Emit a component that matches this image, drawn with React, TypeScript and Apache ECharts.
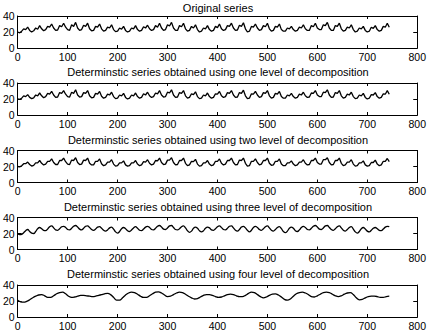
import React, { useEffect, useRef } from "react";
import * as echarts from "echarts";

// hourly samples every 4 hours (original, level 1, level 2, level 3), every 6 hours (level 4)
const step4 = 4;
const step6 = 6;

const titles = [
  "Original series",
  "Determinstic series obtained using one level of decomposition",
  "Determinstic series obtained using two level of decomposition",
  "Determinstic series obtained using three level of decomposition",
  "Determinstic series obtained using four level of decomposition",
];

const xTicks = [0, 100, 200, 300, 400, 500, 600, 700, 800];
const yTicks = [0, 20, 40];

const original = [
  20, 19, 21, 24, 23, 26,
  22, 20, 21.5, 25, 23.5, 28,
  24, 21.5, 23, 27, 26, 30,
  25, 22, 22.5, 28, 26.5, 31,
  26, 23, 22, 29, 27, 32,
  25, 22, 23, 28.5, 27, 31,
  24, 21.5, 22, 27, 26, 30,
  24, 21, 22, 26, 25, 29,
  23, 20.5, 21, 25, 23.5, 27,
  22, 20, 21, 25, 24, 28,
  23, 21, 22, 26.5, 25, 28.5,
  24, 22, 23, 28, 26, 31,
  25, 22, 23, 29, 27.5, 32,
  25, 22, 22, 28, 26.5, 31,
  24, 21, 22, 27, 25, 29,
  23, 20, 21, 25, 24, 28,
  23, 21, 22, 27, 25.5, 30,
  24, 22, 23, 28, 27, 31,
  25, 22, 22.5, 28.5, 27, 31.5,
  24, 20, 21, 27, 26, 30,
  25, 22, 23, 28, 26.5, 31,
  24, 21, 22, 27, 26, 30,
  23, 21, 21, 25, 24, 27,
  23, 21, 22, 26, 25, 29,
  24, 22, 22, 28, 26.5, 31,
  25, 23, 23, 29, 28, 32,
  25, 22, 22, 28, 27, 31,
  24, 21, 22, 26, 25, 29,
  23, 20, 21, 25, 24, 27,
  22, 20, 21, 26, 24.5, 28,
  23, 21, 22, 27, 26, 31,
  26,
];

const level1 = [
  20, 19.5, 21, 24, 23, 25.5,
  22, 20.5, 21.5, 25, 24, 27.5,
  24, 21.5, 23, 27, 26, 29.5,
  25, 22, 22.5, 28, 27, 30.5,
  26, 23, 22.5, 28.5, 27, 31.5,
  25, 22.5, 23, 28, 27, 30.5,
  24, 21.5, 22, 27, 26, 29.5,
  23.5, 21, 22, 26, 25, 28.5,
  23, 20.5, 21, 25, 24, 27,
  22, 20, 21, 25, 24, 27.5,
  23, 21, 22, 26.5, 25, 28.5,
  24, 22, 23, 27.5, 26.5, 30.5,
  25, 22.5, 23, 28.5, 27.5, 31.5,
  25, 22, 22.5, 28, 27, 30.5,
  24, 21, 22, 26.5, 25.5, 29,
  23, 20.5, 21, 25, 24, 27.5,
  23, 21, 22, 26.5, 26, 29.5,
  24, 22, 23, 28, 27, 30.5,
  25, 22, 22.5, 28, 27, 31,
  24, 20.5, 21, 26.5, 26, 29.5,
  25, 22, 23, 28, 27, 30.5,
  24, 21, 22, 27, 26, 29.5,
  23, 21, 21, 25, 24, 27,
  23, 21, 22, 26, 25, 28.5,
  24, 22, 22.5, 27.5, 27, 30.5,
  25, 23, 23, 28.5, 28, 31.5,
  25, 22, 22.5, 28, 27, 30.5,
  24, 21, 22, 26, 25, 28.5,
  23, 20.5, 21, 25, 24, 27,
  22, 20, 21, 25.5, 25, 28,
  23, 21, 22, 26.5, 26, 30.5,
  26,
];

const level2 = [
  20, 19.5, 21, 23.5, 23.5, 25.5,
  22.5, 20.5, 21.5, 24.5, 24.5, 27.5,
  24, 22, 23, 26.5, 26.5, 29.5,
  25, 22.5, 22.5, 27.5, 27.5, 30.5,
  26, 23, 22.5, 28, 27.5, 31,
  25, 22.5, 23, 28, 27.5, 30.5,
  24, 22, 22, 26.5, 26.5, 29.5,
  23.5, 21, 22, 25.5, 25.5, 28.5,
  23, 20.5, 21, 24.5, 24.5, 27,
  22, 20.5, 21, 24.5, 24.5, 27.5,
  23, 21, 22, 26, 25.5, 28.5,
  24, 22, 23, 27.5, 27, 30.5,
  25, 22.5, 23, 28, 28, 31,
  25, 22, 22.5, 27.5, 27.5, 30.5,
  24, 21, 22, 26.5, 26, 29,
  23, 20.5, 21, 24.5, 24.5, 27.5,
  23, 21, 22, 26.5, 26.5, 29.5,
  24, 22, 23, 27.5, 27.5, 30.5,
  25, 22, 22.5, 28, 27.5, 30.5,
  24, 20.5, 21, 26.5, 26.5, 29.5,
  25, 22, 23, 27.5, 27.5, 30.5,
  24, 21.5, 22, 26.5, 26.5, 29.5,
  23, 21, 21, 24.5, 24.5, 27,
  23, 21, 22, 25.5, 25.5, 28.5,
  24, 22, 22.5, 27.5, 27.5, 30.5,
  25, 23, 23, 28.5, 28.5, 31,
  25, 22, 22.5, 27.5, 27.5, 30.5,
  24, 21, 22, 25.5, 25.5, 28.5,
  23, 20.5, 21, 24.5, 24.5, 27,
  22, 20.5, 21, 25, 25, 28,
  23, 21, 22, 26.5, 26.5, 30,
  26,
];

const level3 = [
  20, 18.5, 19, 21, 23.5, 25,
  22.5, 20.5, 20, 22.5, 26, 27.5,
  26, 24, 23.5, 25.5, 28.5, 29.5,
  27, 24.5, 24, 26, 28.5, 29,
  27.5, 25, 24.5, 26.5, 29, 30,
  28, 25.5, 24.5, 26.5, 29, 29.5,
  27.5, 25, 24, 25.5, 28, 28.5,
  26.5, 24, 23, 24.5, 27, 28,
  25.5, 22, 20.5, 22.5, 26, 27.5,
  26, 23.5, 22.5, 24.5, 27, 28.5,
  26.5, 24, 23.5, 25.5, 28, 29,
  27.5, 25, 24.5, 26.5, 29, 30,
  28, 25.5, 25, 27, 29.5, 30,
  27.5, 25, 24.5, 26, 28.5, 29.5,
  27, 23.5, 21.5, 23, 26.5, 28,
  26.5, 23.5, 22, 23.5, 26.5, 28,
  27, 24.5, 24, 26, 28.5, 29.5,
  27.5, 25, 24.5, 26.5, 29, 29.5,
  27, 24, 23, 25, 28, 29,
  27, 24, 22, 24, 27.5, 29,
  27.5, 25, 24, 26, 28.5, 29.5,
  27, 24, 23, 25, 27.5, 28.5,
  26, 22.5, 21, 23, 26.5, 28,
  26.5, 23.5, 22.5, 24.5, 27.5, 29,
  27.5, 25, 24.5, 26.5, 29, 30,
  28, 25.5, 25, 27, 29.5, 30,
  27.5, 25, 24, 26, 28.5, 29.5,
  27, 24, 23, 25, 27.5, 28.5,
  25.5, 22, 20.5, 22.5, 26, 27.5,
  25.5, 23, 22, 24, 26.5, 27.5,
  26, 24, 23.5, 25.5, 28, 29,
  28.5,
];

const level4 = [
  21, 19, 18.5, 19.5, 21.5, 24, 26, 27.5, 28, 26.5,
  24.5, 24.5, 26.5, 29, 30.5, 31, 29, 26, 24.5, 25,
  26, 27, 27, 26.5, 26, 25.5, 26, 27, 28, 29,
  29.5, 28, 24.5, 21, 21, 24, 27.5, 30, 31, 30.5,
  28.5, 26, 24.5, 24.5, 26.5, 29, 31, 31.5, 30, 27.5,
  25.5, 26, 28, 30, 31, 30.5, 28.5, 26, 24, 22.5,
  23, 25, 27, 28, 28, 27, 25.5, 24.5, 25, 26.5,
  28, 28.5, 28, 26.5, 25.5, 25.5, 27, 29.5, 31, 30.5,
  28, 25.5, 24, 25, 27, 28.5, 29, 27.5, 25, 22,
  21, 22.5, 26, 29, 30.5, 31, 30, 28, 25.5, 25,
  26.5, 28.5, 30.5, 31, 30.5, 28.5, 26.5, 25.5, 26.5, 28.5,
  30, 30.5, 28, 24, 21.5, 22, 24, 25.5, 26, 26,
  25.5, 24.5, 24.5, 25.5, 26,
];

const seriesList = [
  { values: original, step: step4, smooth: false },
  { values: level1, step: step4, smooth: false },
  { values: level2, step: step4, smooth: false },
  { values: level3, step: step4, smooth: 0.4 },
  { values: level4, step: step6, smooth: 0.4 },
];

const FONT = "Liberation Sans, Arial, Helvetica, sans-serif";
const LEFT = 16.5;
const RIGHT_EDGE = 419.5;
const TOPS = [16, 83, 150.5, 217.5, 285];
const TITLE_Y = [7.5, 71.5, 139.5, 207, 273.5];
const H = 32;

export default function App() {
  const ref = useRef<HTMLDivElement>(null);
  useEffect(() => {
    if (!ref.current) return;
    const chart = echarts.init(ref.current, undefined, { renderer: "svg" });
    const grid: any[] = [];
    const xAxis: any[] = [];
    const yAxis: any[] = [];
    const series: any[] = [];
    const graphic: any[] = [];
    const axisLine = { show: true, onZero: false, lineStyle: { color: "#000", width: 1 } };
    TOPS.forEach((top, i) => {
      grid.push({ left: LEFT, top, width: RIGHT_EDGE - LEFT, height: H, show: false });
      const xBase = {
        type: "value",
        gridIndex: i,
        min: xTicks[0],
        max: xTicks[xTicks.length - 1],
        interval: 100,
        axisLine,
        axisTick: { show: true, inside: true, length: 3, lineStyle: { color: "#000" } },
        splitLine: { show: false },
      };
      xAxis.push({
        ...xBase,
        position: "bottom",
        axisLabel: { show: true, color: "#000", fontSize: 10.5, fontFamily: FONT, margin: 3 },
      });
      xAxis.push({ ...xBase, position: "top", axisLabel: { show: false } });
      const yBase = {
        type: "value",
        gridIndex: i,
        min: yTicks[0],
        max: yTicks[yTicks.length - 1],
        interval: 20,
        axisLine,
        axisTick: { show: true, inside: true, length: 4, lineStyle: { color: "#000" } },
        splitLine: { show: false },
      };
      yAxis.push({
        ...yBase,
        position: "left",
        axisLabel: { show: true, color: "#000", fontSize: 10.5, fontFamily: FONT, margin: 3 },
      });
      yAxis.push({ ...yBase, position: "right", axisLabel: { show: false } });
      const s = seriesList[i];
      series.push({
        type: "line",
        xAxisIndex: i * 2,
        yAxisIndex: i * 2,
        data: s.values.map((v, k) => [k * s.step, v]),
        showSymbol: false,
        symbol: "none",
        smooth: s.smooth,
        lineStyle: { color: "#000", width: 1.3 },
        silent: true,
      });
      graphic.push({
        type: "text",
        x: (LEFT + RIGHT_EDGE) / 2,
        y: TITLE_Y[i],
        style: {
          text: titles[i],
          fill: "#000",
          fontSize: 11,
          fontFamily: FONT,
          textAlign: "center",
          textVerticalAlign: "middle",
        },
      });
    });
    chart.setOption({
      animation: false,
      backgroundColor: "#fff",
      grid,
      xAxis,
      yAxis,
      series,
      graphic,
    });
    return () => chart.dispose();
  }, []);
  return (
    <div
      ref={ref}
      style={{ position: "fixed", left: 0, top: 0, width: 429, height: 332, background: "#fff" }}
    />
  );
}
